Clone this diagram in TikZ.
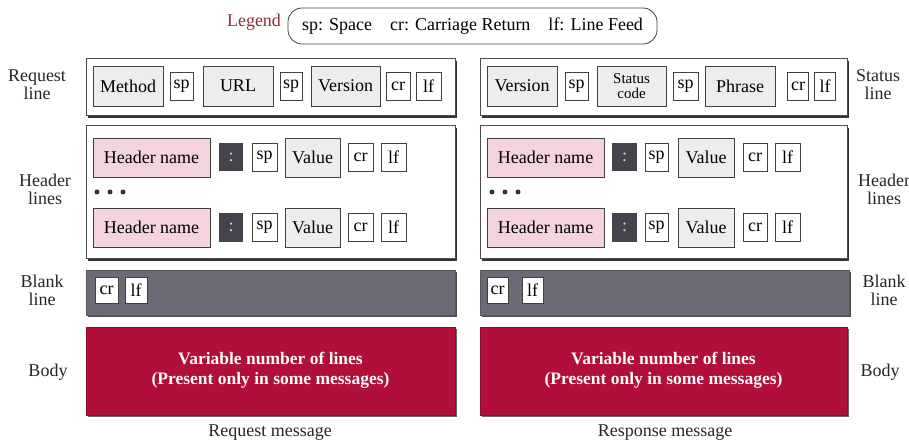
\documentclass[tikz,border=0pt]{standalone}
\usepackage{fontspec}
\setmainfont{Liberation Serif}
\usetikzlibrary{shadows}
\definecolor{fieldgray}{HTML}{EDEDED}
\definecolor{hpink}{HTML}{F3D4DE}
\definecolor{colongray}{HTML}{46434C}
\definecolor{blankgray}{HTML}{6D6A75}
\definecolor{bodyred}{HTML}{B00F3A}
\definecolor{legendred}{HTML}{8B2D3A}
\begin{document}
\begin{tikzpicture}[x=1pt,y=-1pt,
  every node/.style={font=\fontsize{18}{18}\selectfont, inner sep=0pt},
  outerbox/.style={draw=black!70, fill=white, line width=0.8pt,
    drop shadow={shadow xshift=2pt, shadow yshift=-3pt, fill=black!80, opacity=1}},
  bigfld/.style={draw=black!75, fill=fieldgray, line width=0.9pt, minimum height=40pt},
  smfld/.style={draw=black!75, fill=white, line width=0.8pt, minimum height=28pt},
  hfld/.style={draw=black!75, fill=hpink, line width=0.9pt, minimum height=39pt, minimum width=117pt},
  colonfld/.style={fill=colongray, text=white!70!gray, minimum width=24pt, minimum height=28pt},
  vfld/.style={bigfld, minimum height=39pt},
  blankbox/.style={fill=blankgray, draw=blankgray!80!black,
    drop shadow={shadow xshift=2pt, shadow yshift=-2pt, fill=black!70, opacity=1}},
  bodybox/.style={fill=bodyred, draw=bodyred!80!black,
    drop shadow={shadow xshift=2pt, shadow yshift=-2pt, fill=black!60, opacity=1}},
  bodytext/.style={text=white!92!pink, align=center, font=\fontsize{17.5}{20}\selectfont\bfseries},
  lbl/.style={align=center, text=black!85},
  dot/.style={circle, fill=black!80, minimum size=5pt}
]
\useasboundingbox (0,0) rectangle (909,446);

% Legend
\node[text=legendred] (legend) at (254,22) {Legend};
\node[draw=black!75, line width=0.8pt, rounded corners=14pt, minimum width=369pt, minimum height=36pt] (legendbox) at (472.5,26)
  {sp: Space\quad cr: Carriage Return\quad lf: Line Feed};

% ---------- Request message ----------
\node[outerbox, minimum width=369pt, minimum height=57pt] (reqline) at (270.5,86.5) {};
\node[bigfld, minimum width=70pt] (method) at (128,86) {Method};
\node[smfld, minimum width=23pt] (rsp1) at (181.5,86) {sp};
\node[bigfld, minimum width=70pt] (url) at (238,86) {URL};
\node[smfld, minimum width=22pt] (rsp2) at (291,86) {sp};
\node[bigfld, minimum width=69pt] (rver) at (345.5,86) {Version};
\node[smfld, minimum width=24pt] (rcr) at (398,86) {cr};
\node[smfld, minimum width=25pt] (rlf) at (428.5,86) {lf};

\node[outerbox, minimum width=369pt, minimum height=133pt] (reqhdr) at (270.5,191.5) {};
\node[hfld] (rh1) at (151.5,157.5) {Header name};
\node[colonfld] (rc1) at (231,157.5) {:};
\node[smfld, minimum width=25pt] (rhsp1) at (264.5,157.5) {sp};
\node[vfld, minimum width=55pt] (rv1) at (312.5,157.5) {Value};
\node[smfld, minimum width=25pt] (rhcr1) at (360.5,157.5) {cr};
\node[smfld, minimum width=25pt] (rhlf1) at (393.5,157.5) {lf};
\node[dot] (rd1) at (97,192) {};
\node[dot] (rd2) at (110,192) {};
\node[dot] (rd3) at (123,192) {};
\node[hfld] (rh2) at (151.5,227.5) {Header name};
\node[colonfld] (rc2) at (231,227.5) {:};
\node[smfld, minimum width=25pt] (rhsp2) at (264.5,227.5) {sp};
\node[vfld, minimum width=55pt] (rv2) at (312.5,227.5) {Value};
\node[smfld, minimum width=25pt] (rhcr2) at (360.5,227.5) {cr};
\node[smfld, minimum width=25pt] (rhlf2) at (393.5,227.5) {lf};

\node[blankbox, minimum width=369pt, minimum height=45pt] (reqblank) at (270.5,292.5) {};
\node[smfld, minimum width=23pt, minimum height=26pt] (rbcr) at (106.5,290) {cr};
\node[smfld, minimum width=22pt, minimum height=26pt] (rblf) at (136,290) {lf};

\node[bodybox, minimum width=369pt, minimum height=88pt] (reqbody) at (270.5,371) {};
\node[bodytext] (reqbodytxt) at (270.5,370) {Variable number of lines\\(Present only in some messages)};

\node[lbl] (lreqline) at (37,85) {Request\\line};
\node[lbl] (lreqhdr) at (45,189) {Header\\lines};
\node[lbl] (lreqblank) at (42,290) {Blank\\line};
\node[lbl] (lreqbody) at (48,372) {Body};
\node[lbl] (reqmsg) at (270,433) {Request message};

% ---------- Response message ----------
\node[outerbox, minimum width=367pt, minimum height=57pt] (statline) at (663.5,86.5) {};
\node[bigfld, minimum width=70pt] (sver) at (522,86) {Version};
\node[smfld, minimum width=23pt] (ssp1) at (576.5,86) {sp};
\node[bigfld, minimum width=69pt, align=center, font=\fontsize{15}{15}\selectfont] (scode) at (631.5,86) {Status\\code};
\node[smfld, minimum width=25pt] (ssp2) at (685.5,86) {sp};
\node[bigfld, minimum width=70pt] (phrase) at (740,86) {Phrase};
\node[smfld, minimum width=21pt] (scr) at (798,86) {cr};
\node[smfld, minimum width=21pt] (slf) at (825,86) {lf};

\node[outerbox, minimum width=367pt, minimum height=133pt] (reshdr) at (663.5,191.5) {};
\node[hfld] (sh1) at (545.5,157.5) {Header name};
\node[colonfld, minimum width=25pt] (sc1) at (624.5,157.5) {:};
\node[smfld, minimum width=23pt] (shsp1) at (656.5,157.5) {sp};
\node[vfld, minimum width=56pt] (sv1) at (706,157.5) {Value};
\node[smfld, minimum width=24pt] (shcr1) at (755,157.5) {cr};
\node[smfld, minimum width=25pt] (shlf1) at (787.5,157.5) {lf};
\node[dot] (sd1) at (492,192) {};
\node[dot] (sd2) at (505,192) {};
\node[dot] (sd3) at (518,192) {};
\node[hfld] (sh2) at (545.5,227.5) {Header name};
\node[colonfld, minimum width=25pt] (sc2) at (624.5,227.5) {:};
\node[smfld, minimum width=23pt] (shsp2) at (656.5,227.5) {sp};
\node[vfld, minimum width=56pt] (sv2) at (706,227.5) {Value};
\node[smfld, minimum width=24pt] (shcr2) at (755,227.5) {cr};
\node[smfld, minimum width=25pt] (shlf2) at (787.5,227.5) {lf};

\node[blankbox, minimum width=369pt, minimum height=45pt] (resblank) at (664.5,292.5) {};
\node[smfld, minimum width=21pt, minimum height=26pt] (sbcr) at (497.5,290) {cr};
\node[smfld, minimum width=21pt, minimum height=26pt] (sblf) at (532.5,290) {lf};

\node[bodybox, minimum width=367pt, minimum height=88pt] (resbody) at (663.5,371) {};
\node[bodytext] (resbodytxt) at (663.5,370) {Variable number of lines\\(Present only in some messages)};

\node[lbl] (lstatline) at (878,85) {Status\\line};
\node[lbl] (lreshdr) at (884,189) {Header\\lines};
\node[lbl] (lresblank) at (884,290) {Blank\\line};
\node[lbl] (lresbody) at (880,372) {Body};
\node[lbl] (resmsg) at (665,433) {Response message};
\end{tikzpicture}
\end{document}
